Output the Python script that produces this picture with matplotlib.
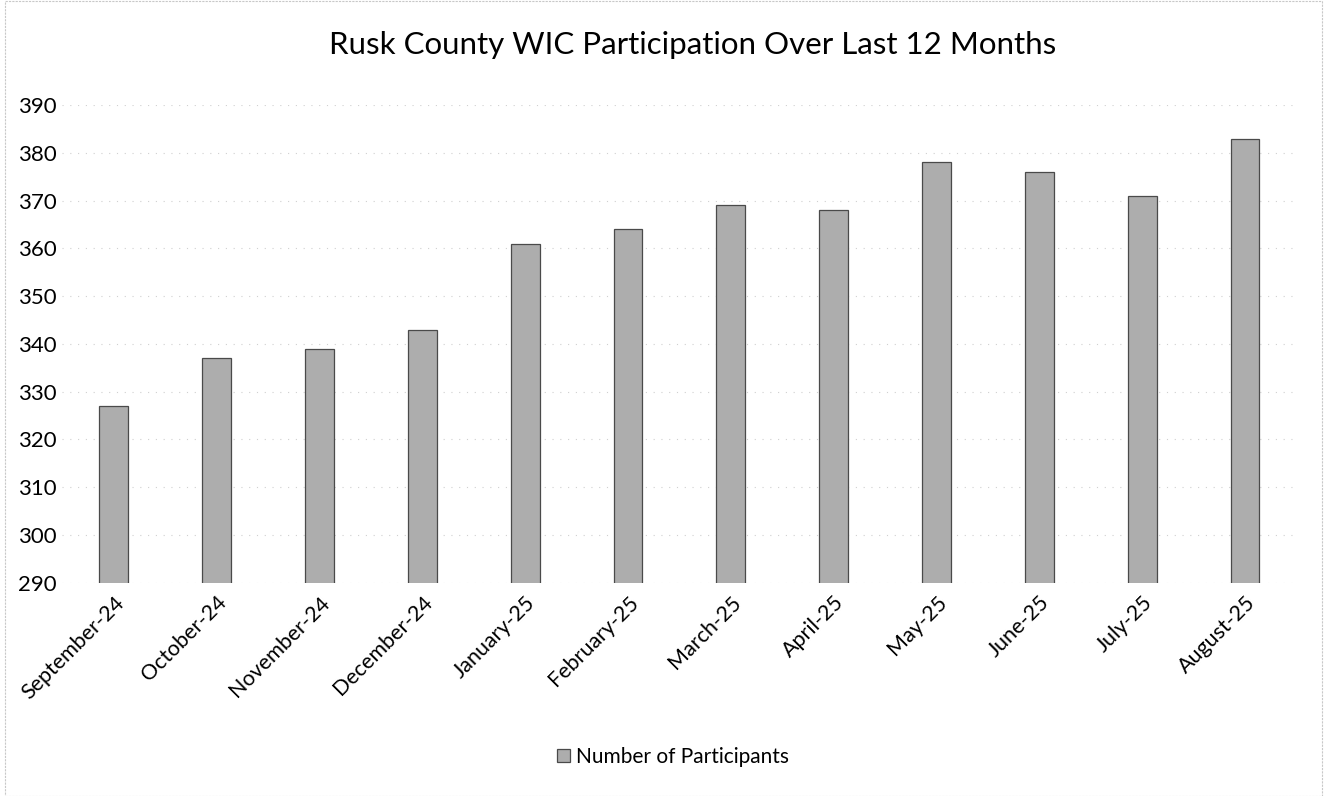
import matplotlib.pyplot as plt
import numpy as np

# data
months = ["September-24", "October-24", "November-24", "December-24",
          "January-25", "February-25", "March-25", "April-25",
          "May-25", "June-25", "July-25", "August-25"]
participants = [327, 337, 339, 343, 361, 364, 369, 368, 378, 376, 371, 383]
y_ticks = list(range(290, 391, 10))

plt.rcParams['font.family'] = ['Lato', 'DejaVu Sans']

fig = plt.figure(figsize=(13.27, 7.96), dpi=100)
ax = fig.add_axes([0.047, 0.268, 0.930, 0.600])

x = np.arange(len(months))
ax.bar(x, participants, width=0.28, bottom=0, color='#adadad',
       edgecolor='#4a4a4a', linewidth=0.9, label='Number of Participants',
       zorder=2)

ax.set_ylim(290, 390)
ax.set_xlim(-0.5, len(months) - 0.5)
ax.set_yticks(y_ticks)
ax.set_yticklabels([str(t) for t in y_ticks], fontsize=16)
ax.set_xticks(x)
ax.set_xticklabels(months, rotation=45, ha='right', rotation_mode='anchor',
                   fontsize=15.5)
ax.tick_params(axis='x', length=0, pad=7)
ax.tick_params(axis='y', length=0, pad=4)

ax.grid(axis='y', color='#d0d0d0', linestyle=(0, (1, 6)), linewidth=0.8, zorder=0)
for s in ax.spines.values():
    s.set_visible(False)

fig.text(0.522, 0.943, "Rusk County WIC Participation Over Last 12 Months",
         ha='center', va='center', fontsize=22.5)

ax.legend(loc='center', bbox_to_anchor=(0.495, -0.364), frameon=False,
          fontsize=15, handlelength=0.6, handleheight=0.6, handletextpad=0.3)

# faint page border
fig.patches.append(plt.Rectangle((0.004, 0.0), 0.992, 0.999, transform=fig.transFigure,
                                 fill=False, edgecolor='#c8c8c8', linewidth=0.8,
                                 linestyle=(0, (2, 1))))

fig.savefig("out.png", dpi=100)
